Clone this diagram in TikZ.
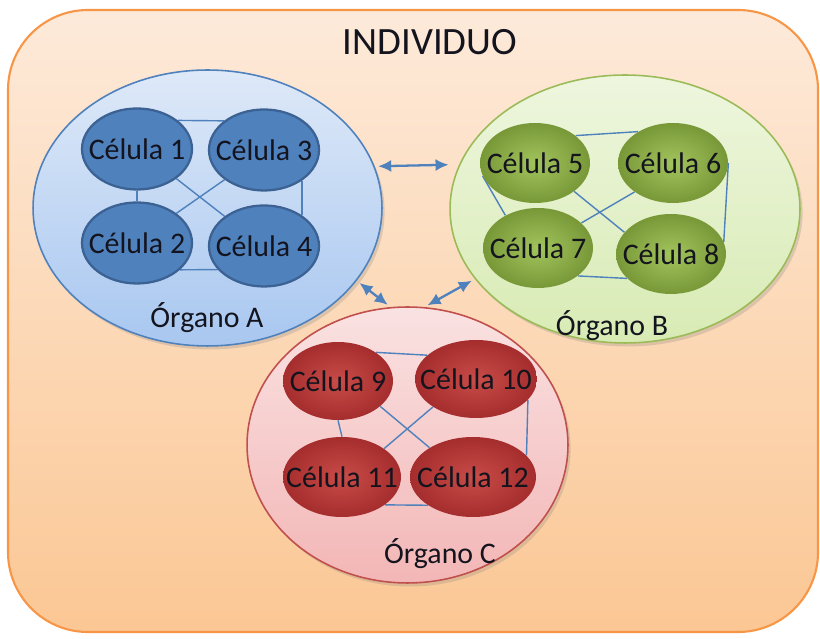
\documentclass[tikz,border=0pt]{standalone}
\usepackage{fontspec}
\setmainfont{Carlito}
\usetikzlibrary{shapes.geometric,shadows,arrows.meta}
\pgfdeclarelayer{back}
\pgfdeclarelayer{wires}
\pgfsetlayers{back,wires,main}
\definecolor{skinT}{RGB}{253,234,218}
\definecolor{skinB}{RGB}{251,199,148}
\definecolor{edgeO}{RGB}{247,150,70}
\definecolor{wire}{RGB}{79,129,189}
\definecolor{blueM}{RGB}{79,129,189}
\definecolor{blueD}{RGB}{60,98,148}
\definecolor{orgAT}{RGB}{222,233,248}
\definecolor{orgAB}{RGB}{168,199,240}
\definecolor{orgBT}{RGB}{238,246,222}
\definecolor{orgBB}{RGB}{216,235,180}
\definecolor{orgBE}{RGB}{155,187,89}
\definecolor{orgCT}{RGB}{250,226,226}
\definecolor{orgCB}{RGB}{243,182,182}
\definecolor{orgCE}{RGB}{192,80,77}
\definecolor{greenL}{RGB}{162,196,92}
\definecolor{greenD}{RGB}{120,152,56}
\definecolor{redL}{RGB}{200,76,72}
\definecolor{redD}{RGB}{165,45,45}
\definecolor{inkD}{RGB}{20,20,30}
\begin{document}
\begin{tikzpicture}
	[x=0.02cm,y=0.02cm,
	every node/.style={font=\fontsize{17}{20}\selectfont,text=inkD},
	organ/.style={ellipse,inner sep=0pt,line width=0.9pt,drop shadow={opacity=0.25,shadow xshift=1.5pt,shadow yshift=-2pt}},
	cell/.style={ellipse,inner xsep=-5mm,inner ysep=0pt,minimum width=2.2cm,minimum height=1.62cm},
	cellA/.style={cell,draw=blueD,line width=1.3pt,fill=blueM},
	cellB/.style={cell,inner color=greenL,outer color=greenD},
	cellC/.style={cell,inner color=redL,outer color=redD},
	link/.style={draw=wire,line width=0.8pt},
	exch/.style={draw=wire,line width=1.3pt,{Latex[length=2.6mm,width=2.4mm]}-{Latex[length=2.6mm,width=2.4mm]},shorten <=2pt,shorten >=2pt}
	]
	\useasboundingbox (0,0) rectangle (820,638);
	\begin{pgfonlayer}{back}
		\draw[draw=edgeO,line width=1.2pt,rounded corners=1.6cm,top color=skinT,bottom color=skinB] (8,6) rectangle (818,628);
		\node[organ,draw=blueM,top color=orgAT,bottom color=orgAB,minimum width=6.98cm,minimum height=5.52cm] (orgA) at (207.5,430) {};
		\node[organ,draw=orgBE,top color=orgBT,bottom color=orgBB,minimum width=7cm,minimum height=5.36cm] (orgB) at (625,429) {};
		\node[organ,draw=orgCE,top color=orgCT,bottom color=orgCB,minimum width=6.42cm,minimum height=5.52cm] (orgC) at (407.5,193) {};
	\end{pgfonlayer}
	\node[font=\fontsize{22}{26}\selectfont] (title) at (430,596) {INDIVIDUO};
	% organo A
	\node[cellA] (c1) at (137,489) {Célula 1};
	\node[cellA] (c3) at (264,488) {Célula 3};
	\node[cellA] (c2) at (137,395) {Célula 2};
	\node[cellA] (c4) at (264,392) {Célula 4};
	\node (lblA) at (207,320) {Órgano A};
	% organo B
	\node[cellB,minimum height=1.6cm] (c5) at (535,475) {Célula 5};
	\node[cellB,minimum height=1.6cm] (c6) at (673,475) {Célula 6};
	\node[cellB,minimum height=1.6cm] (c7) at (538,390) {Célula 7};
	\node[cellB,minimum height=1.6cm] (c8) at (671,384) {Célula 8};
	\node (lblB) at (612,312) {Órgano B};
	% organo C
	\node[cellC,minimum height=1.56cm] (c9) at (338,257) {Célula 9};
	\node[cellC,minimum width=2.44cm,minimum height=1.56cm] (c10) at (476,259) {Célula 10};
	\node[cellC,minimum width=2.36cm,minimum height=1.6cm] (c11) at (342,161) {Célula 11};
	\node[cellC,minimum width=2.52cm,minimum height=1.6cm] (c12) at (473,161) {Célula 12};
	\node (lblC) at (440,84) {Órgano C};
	\begin{pgfonlayer}{wires}
		\draw[link] (c1.35) -- (c3.144);
		\draw[link] (c1.south) -- (c2.north);
		\draw[link] (c1.-37) -- (c4.143);
		\draw[link] (c3.217) -- (c2.37);
		\draw[link] (c3.-39) -- (c4.39);
		\draw[link] (c2.-32) -- (c4.207);
		\draw[link] (c5.34) -- (c6.138);
		\draw[link] (c5.194) -- (c7.135);
		\draw[link] (c5.-36) -- (c8.155);
		\draw[link] (c6.217) -- (c7.30);
		\draw[link] (c6.east) -- (c8.13);
		\draw[link] (c7.-35) -- (c8.209);
		\draw[link] (c9.37) -- (c10.154);
		\draw[link] (c9.south) -- (c11.north);
		\draw[link] (c9.-31) -- (c12.146);
		\draw[link] (c10.213) -- (c11.34);
		\draw[link] (c10.-22) -- (c12.22);
		\draw[link] (c11.-33) -- (c12.212);
	\end{pgfonlayer}
	\draw[exch,shorten >=6pt] (orgA.14) -- (orgB.165);
	\draw[exch] (orgA.-26) -- (orgC.97);
	\draw[exch] (orgB.205) -- (orgC.83);
\end{tikzpicture}
\end{document}
